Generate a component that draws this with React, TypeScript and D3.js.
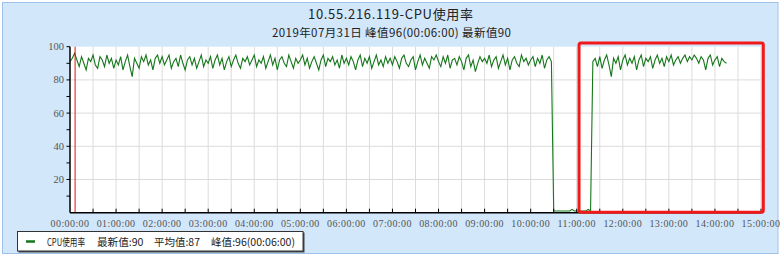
import React from "react";
import * as d3 from "d3";

// ---- Data (values every 3 minutes) ----
const titleText = "10.55.216.119-CPU使用率";
const subtitleText = "2019年07月31日 峰值96(00:06:00) 最新值90";
const legendParts = ["CPU使用率", "最新值:90", "平均值:87", "峰值:96(00:06:00)"];
const yTickValues = [20, 40, 60, 80, 100];
const yMinorTicks = [10, 30, 50, 70, 90];
const xLabelHours = d3.range(0, 16);
const peakMinute = 6;
const highlightMinutes = [663, 903];
const highlightValues = [0.2, 102.2];

const sampleStep = 3;
const h00 = [91, 93, 96, 92, 88, 94, 90, 86, 93, 91, 95, 89, 87, 94, 92, 88, 95, 90, 93, 87];
const h01 = [92, 89, 94, 86, 91, 95, 88, 82, 93, 90, 87, 94, 91, 95, 89, 92, 86, 93, 95, 90];
const h02 = [94, 89, 92, 95, 87, 91, 93, 88, 95, 90, 86, 92, 94, 89, 93, 87, 91, 95, 88, 92];
const h03 = [90, 94, 87, 92, 95, 89, 93, 86, 91, 94, 88, 92, 95, 90, 87, 93, 91, 94, 89, 92];
const h04 = [95, 88, 92, 90, 94, 87, 91, 95, 89, 93, 86, 92, 94, 90, 88, 95, 91, 87, 93, 90];
const h05 = [92, 95, 89, 93, 87, 91, 94, 90, 86, 92, 95, 88, 93, 91, 94, 89, 92, 87, 95, 90];
const h06 = [93, 89, 94, 91, 86, 92, 95, 88, 93, 90, 94, 87, 91, 95, 89, 92, 88, 94, 90, 93];
const h07 = [89, 94, 91, 87, 93, 95, 90, 88, 92, 94, 86, 91, 95, 89, 93, 90, 87, 94, 92, 95];
const h08 = [91, 88, 94, 90, 95, 87, 92, 93, 89, 94, 91, 86, 93, 95, 88, 92, 85, 90, 94, 91];
const h09 = [93, 90, 95, 88, 92, 94, 87, 91, 95, 89, 93, 86, 92, 94, 90, 88, 95, 91, 93, 89];
const h10 = [92, 94, 88, 93, 90, 95, 87, 92, 94, 91];
const low = [1, 1, 1, 1, 1, 1, 1, 1, 2, 1, 1, 1, 1, 1, 1, 2, 1];
const h11 = [91, 93, 88, 94, 87, 92, 95, 89, 82, 93, 90, 94, 86];
const h12 = [92, 95, 89, 93, 90, 94, 86, 92, 95, 88, 93, 91, 94, 87, 92, 95, 90, 93, 88, 94];
const h13 = [91, 95, 89, 92, 94, 90, 93, 95, 91, 94, 92, 95, 93, 90, 94, 92, 86, 93, 95, 89];
const h14 = [92, 94, 88, 93, 91, 90];

const segmentStarts = [0, 60, 120, 180, 240, 300, 360, 420, 480, 540, 600, 630, 681, 720, 780, 840];
const segments = [h00, h01, h02, h03, h04, h05, h06, h07, h08, h09, h10, low, h11, h12, h13, h14];

const series: { t: number; v: number }[] = [];
segments.forEach((arr, si) => {
  arr.forEach((v, i) => series.push({ t: segmentStarts[si] + i * sampleStep, v }));
});

const W = 781;
const H = 258;
const plot = { left: 70, right: 761, top: 46.7, bottom: 212.7 };

export default function App() {
  const x = d3.scaleLinear().domain([0, 900]).range([plot.left, plot.right]);
  const y = d3.scaleLinear().domain([0, 100]).range([plot.bottom, plot.top]);
  const line = d3
    .line<{ t: number; v: number }>()
    .x((d) => x(d.t))
    .y((d) => y(d.v));
  const halfHours = d3.range(0, 901, 30);
  const serif = "'Liberation Serif', 'DejaVu Serif', serif";
  const cjk = "'Noto Sans CJK JP', 'Noto Sans CJK SC', sans-serif";
  const fmt = (h: number) => `${String(h).padStart(2, "0")}:00:00`;

  const legendX = [47, 97, 154, 211];
  const legendW = [38, 46.5, 46, 84];

  return (
    <svg
      width={W}
      height={H}
      style={{ position: "absolute", left: 0, top: 0, display: "block" }}
    >
      <rect x={2.5} y={2.5} width={775.5} height={251} fill="#d2e7fa" stroke="#9fc2ea" strokeWidth={1} />
      <text x={390.5} y={19} textAnchor="middle" fontFamily={cjk} fontSize={13} fill="#222" textLength={165} lengthAdjust="spacing">
        {titleText}
      </text>
      <text x={391.5} y={37} textAnchor="middle" fontFamily={cjk} fontSize={11.5} fill="#222" textLength={239} lengthAdjust="spacing">
        {subtitleText}
      </text>

      {/* plot area */}
      <rect x={plot.left} y={plot.top} width={plot.right - plot.left} height={plot.bottom - plot.top} fill="#ffffff" />
      {halfHours.slice(1).map((m) => (
        <line key={"gx" + m} x1={x(m)} x2={x(m)} y1={plot.top} y2={plot.bottom} stroke="#dcdcdc" strokeWidth={1} />
      ))}
      {yTickValues.slice(0, 4).map((v) => (
        <line key={"gy" + v} x1={plot.left} x2={plot.right} y1={y(v)} y2={y(v)} stroke="#dcdcdc" strokeWidth={1} />
      ))}

      {/* data line */}
      <path d={line(series) || ""} fill="none" stroke="#15761a" strokeWidth={1.1} />

      {/* peak marker */}
      <line x1={x(peakMinute) + 0.5} x2={x(peakMinute) + 0.5} y1={plot.top} y2={plot.bottom} stroke="#e81010" strokeWidth={1} />

      {/* axes */}
      <line x1={plot.left} x2={plot.left} y1={plot.top} y2={plot.bottom} stroke="#000" strokeWidth={1.5} />
      <line x1={plot.left} x2={plot.right} y1={plot.bottom} y2={plot.bottom} stroke="#000" strokeWidth={1.5} />
      {yTickValues.concat(yMinorTicks).map((v) => (
        <line key={"ty" + v} x1={plot.left - 3.5} x2={plot.left} y1={y(v)} y2={y(v)} stroke="#000" strokeWidth={1} />
      ))}
      {halfHours.slice(1).map((m) => (
        <line key={"tx" + m} x1={x(m)} x2={x(m)} y1={plot.bottom} y2={plot.bottom - 4} stroke="#000" strokeWidth={1} />
      ))}
      {yTickValues.map((v) => (
        <text key={"ly" + v} x={plot.left - 6} y={y(v) + 3.5} textAnchor="end" fontFamily={serif} fontSize={10.5} fill="#555">
          {v}
        </text>
      ))}
      {xLabelHours.map((h) => (
        <text
          key={"lx" + h}
          x={x(h * 60)}
          y={227}
          textAnchor="middle"
          fontFamily={serif}
          fontSize={10}
          letterSpacing={0.4}
          fill="#555"
        >
          {fmt(h)}
        </text>
      ))}

      {/* highlight annotation */}
      <rect
        x={x(highlightMinutes[0])}
        y={y(highlightValues[1])}
        width={x(highlightMinutes[1]) - x(highlightMinutes[0])}
        height={y(highlightValues[0]) - y(highlightValues[1])}
        fill="none"
        stroke="#f01a1a"
        strokeWidth={3}
        rx={2}
      />

      {/* legend */}
      <rect x={18.5} y={232.5} width={286} height={20} fill="#444" />
      <rect x={17.5} y={231.5} width={285.5} height={19.5} fill="#ffffff" stroke="#333" strokeWidth={1} />
      <line x1={26} x2={35} y1={241.5} y2={241.5} stroke="#15761a" strokeWidth={2.5} />
      {legendParts.map((p, i) => (
        <text
          key={"lg" + i}
          x={legendX[i]}
          y={245.5}
          fontFamily={cjk}
          fontSize={10.5}
          fill="#222"
          textLength={legendW[i]}
          lengthAdjust="spacingAndGlyphs"
        >
          {p}
        </text>
      ))}
    </svg>
  );
}
